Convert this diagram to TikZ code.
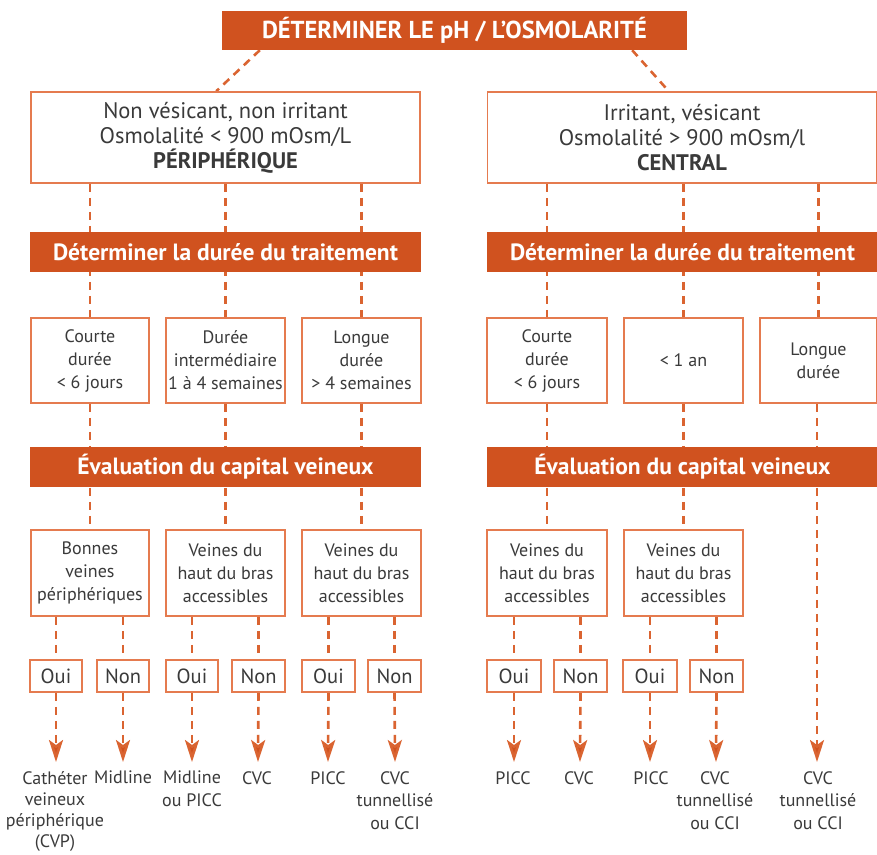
\documentclass[tikz,border=0pt]{standalone}
\usepackage{fontspec}
\setmainfont{PT Sans}
\usetikzlibrary{arrows.meta,calc}
\pgfdeclarelayer{background}
\pgfsetlayers{background,main}
\definecolor{barorange}{HTML}{D0521F}
\definecolor{boxorange}{HTML}{E57B4F}
\definecolor{linkorange}{HTML}{DA6431}
\definecolor{txt}{HTML}{3A3A3A}
\tikzset{
  bar/.style={fill=barorange, text=white, inner sep=0pt, font=\fontsize{23.5}{26}\selectfont\bfseries},
  topbar/.style={bar, font=\fontsize{24.5}{26}\selectfont\bfseries},
  bigbox/.style={draw=boxorange, line width=1.5pt, fill=white, text=txt, inner sep=0pt, align=center, font=\fontsize{22.5}{25}\selectfont},
  smallbox/.style={draw=boxorange, line width=1.5pt, fill=white, text=txt, inner sep=0pt, align=center, font=\fontsize{18}{23}\selectfont},
  yn/.style={smallbox, minimum height=32pt, font=\fontsize{20.5}{23}\selectfont},
  lbl/.style={text=txt, inner sep=0pt, align=center, anchor=north, font=\fontsize{18}{22.5}\selectfont},
  link/.style={draw=linkorange, line width=2.6pt, dash pattern=on 8pt off 6pt},
  arr/.style={link, -{Stealth[length=22pt,width=14pt,inset=5pt,fill=barorange]}},
}
\begin{document}
\begin{tikzpicture}[x=1pt,y=-1pt]
\useasboundingbox (0,0) rectangle (877,854);
\clip (0,0) rectangle (877,854);
% top
\node[topbar, minimum width=465pt, minimum height=39pt] (top) at (454.5,30.5) {DÉTERMINER LE pH / L’OSMOLARITÉ};
% big boxes
\node[bigbox, minimum width=389pt, minimum height=91pt] (L) at (225.5,137.5) {Non vésicant, non irritant\\Osmolalité < 900 mOsm/L\\\textbf{PÉRIPHÉRIQUE}};
\node[bigbox, minimum width=389pt, minimum height=91pt] (R) at (682,137.5) {Irritant, vésicant\\Osmolalité > 900 mOsm/l\\\textbf{CENTRAL}};
% duration bars
\node[bar, minimum width=391pt, minimum height=40pt] (LD) at (225.5,252) {Déterminer la durée du traitement};
\node[bar, minimum width=391pt, minimum height=40pt] (RD) at (682.5,252) {Déterminer la durée du traitement};
% row 1
\node[smallbox, minimum width=118pt, minimum height=85pt] (L1) at (90,360.5) {Courte\\durée\\< 6 jours};
\node[smallbox, minimum width=119pt, minimum height=85pt] (L2) at (225.5,360.5) {Durée\\intermédiaire\\1 à 4 semaines};
\node[smallbox, minimum width=119pt, minimum height=85pt] (L3) at (361.5,360.5) {Longue\\durée\\> 4 semaines};
\node[smallbox, minimum width=120pt, minimum height=85pt] (R1) at (547,360.5) {Courte\\durée\\< 6 jours};
\node[smallbox, minimum width=119pt, minimum height=85pt] (R2) at (683.5,360.5) {< 1 an};
\node[smallbox, minimum width=117pt, minimum height=85pt] (R3) at (818.5,360.5) {Longue\\durée};
% evaluation bars
\node[bar, minimum width=391pt, minimum height=40pt] (LE) at (225.5,467) {Évaluation du capital veineux};
\node[bar, minimum width=391pt, minimum height=40pt] (RE) at (682.5,467) {Évaluation du capital veineux};
% row 2
\node[smallbox, minimum width=118pt, minimum height=86pt] (M1) at (90,573) {Bonnes\\veines\\périphériques};
\node[smallbox, minimum width=119pt, minimum height=86pt] (M2) at (225.5,573) {Veines du\\haut du bras\\accessibles};
\node[smallbox, minimum width=119pt, minimum height=86pt] (M3) at (361.5,573) {Veines du\\haut du bras\\accessibles};
\node[smallbox, minimum width=120pt, minimum height=86pt] (M4) at (547,573) {Veines du\\haut du bras\\accessibles};
\node[smallbox, minimum width=119pt, minimum height=86pt] (M5) at (683.5,573) {Veines du\\haut du bras\\accessibles};
% oui / non
\node[yn, minimum width=52pt] (O1) at (56,676) {Oui};
\node[yn, minimum width=52pt] (N1) at (123,676) {Non};
\node[yn, minimum width=52pt] (O2) at (192,676) {Oui};
\node[yn, minimum width=53pt] (N2) at (258.5,676) {Non};
\node[yn, minimum width=53pt] (O3) at (328.5,676) {Oui};
\node[yn, minimum width=53pt] (N3) at (394.5,676) {Non};
\node[yn, minimum width=54pt] (O4) at (514,676) {Oui};
\node[yn, minimum width=53pt] (N4) at (580.5,676) {Non};
\node[yn, minimum width=54pt] (O5) at (650,676) {Oui};
\node[yn, minimum width=53pt] (N5) at (716.5,676) {Non};
% arrow tips
\foreach \n/\x in {t1/56,t2/123,t3/192,t4/258,t5/328,t6/395,t7/514,t8/580,t9/650,t10/716,t11/817}{
  \coordinate (\n) at (\x,762);
}
% labels
\node[lbl, font=\fontsize{18}{21}\selectfont] (E1) at (55,771) {Cathéter\\veineux\\périphérique\\(CVP)};
\node[lbl] (E2) at (123,771) {Midline};
\node[lbl] (E3) at (192,771) {Midline\\ou PICC};
\node[lbl] (E4) at (257,771) {CVC};
\node[lbl] (E5) at (328,771) {PICC};
\node[lbl] (E6) at (395,771) {CVC\\tunnellisé\\ou CCI};
\node[lbl] (E7) at (513,771) {PICC};
\node[lbl] (E8) at (579,771) {CVC};
\node[lbl] (E9) at (651,771) {PICC};
\node[lbl] (E10) at (715,771) {CVC\\tunnellisé\\ou CCI};
\node[lbl] (E11) at (818,771) {CVC\\tunnellisé\\ou CCI};
\begin{pgfonlayer}{background}
% diagonals
\draw[link] ($(top.south west)+(38,0)$) -- ($(L.north west)+(186,0)$);
\draw[link] ($(top.south east)+(-55,0)$) -- ($(R.north west)+(182,0)$);
% big box -> row1 (through bars)
\foreach \b/\r in {L/L1,L/L2,L/L3,R/R1,R/R2}{
  \draw[link] (\b.south -| \r.center) -- (\r.north);
}
\draw[link] (R.south -| R3.center) -- (R3.north);
% row1 -> row2
\foreach \a/\b in {L1/M1,L2/M2,L3/M3,R1/M4,R2/M5}{
  \draw[link] (\a.south) -- (\b.north);
}
% row2 -> oui/non
\foreach \m/\o/\n in {M1/O1/N1,M2/O2/N2,M3/O3/N3,M4/O4/N4,M5/O5/N5}{
  \draw[link] (\m.south -| \o.center) -- (\o.north);
  \draw[link] (\m.south -| \n.center) -- (\n.north);
}
% arrows
\foreach \o/\t in {O1/t1,N1/t2,O2/t3,N2/t4,O3/t5,N3/t6,O4/t7,N4/t8,O5/t9,N5/t10}{
  \draw[arr] (\o.south) -- (\t);
}
\draw[arr] (R3.south -| t11) -- (t11);
\end{pgfonlayer}
\end{tikzpicture}
\end{document}
